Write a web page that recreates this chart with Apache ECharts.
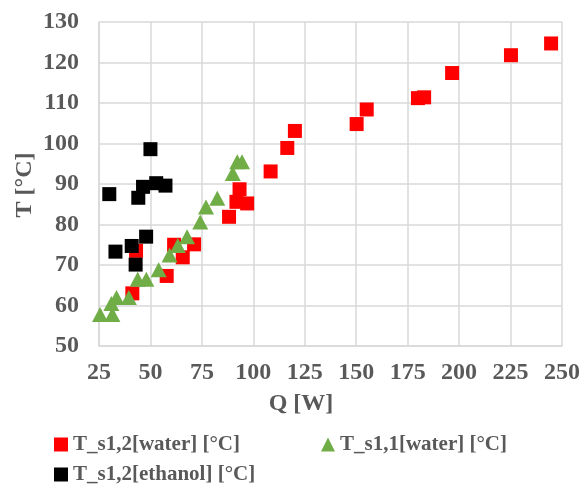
<!DOCTYPE html>
<html>
<head>
<meta charset="utf-8">
<script src="https://cdn.jsdelivr.net/npm/echarts@6/dist/echarts.min.js"></script>
<style>
  html, body { margin: 0; padding: 0; background: #fff; }
  #main { width: 583px; height: 488px; }
</style>
</head>
<body>
<div id="main"></div>
<script>
// series names
var names = ['T_s1,2[water] [°C]', 'T_s1,1[water] [°C]', 'T_s1,2[ethanol] [°C]'];

// Q [W], T [°C] pairs
var waterS12 = [
  [41.2, 63.0], [43.0, 73.5], [57.9, 67.3], [61.5, 75.0], [65.7, 71.9], [71.2, 75.1],
  [88.2, 81.9], [91.8, 85.6], [93.3, 88.7], [97.0, 85.2], [108.4, 93.1], [116.5, 98.9],
  [120.2, 103.1], [150.2, 104.8], [155.1, 108.4], [180.0, 111.2], [183.0, 111.4],
  [196.6, 117.4], [225.2, 121.8], [244.7, 124.7]
];
var waterS11 = [
  [25.5, 57.8], [31.5, 57.8], [31.0, 60.5], [33.5, 62.0], [39.5, 62.0], [43.8, 66.5],
  [48.0, 66.5], [54.0, 68.8], [59.3, 72.5], [63.3, 74.8], [67.8, 77.0], [74.2, 80.6],
  [77.0, 84.3], [82.5, 86.5], [90.0, 92.6], [92.2, 95.5], [94.5, 95.5]
];
var ethanolS12 = [
  [30.0, 87.5], [33.0, 73.3], [40.9, 74.7], [42.8, 70.1], [44.1, 86.6],
  [46.4, 89.3], [47.9, 77.0], [50.0, 98.6], [52.8, 90.2], [57.3, 89.6]
];

var xTicks = [25, 250, 25];   // min, max, step
var yTicks = [50, 130, 10];

var serif = "'Times New Roman', 'Liberation Serif', serif";
var grey = '#595959';

var chart = echarts.init(document.getElementById('main'));

var option = {
  animation: false,
  grid: { left: 99, right: 12, top: 22, bottom: 142 },
  xAxis: {
    type: 'value',
    min: xTicks[0], max: xTicks[1], interval: xTicks[2],
    axisLine: { show: true, lineStyle: { color: '#d9d9d9', width: 1.5 } },
    axisTick: { show: false },
    splitLine: { lineStyle: { color: '#d9d9d9', width: 1.5 } },
    axisLabel: { color: grey, fontFamily: serif, fontWeight: 'bold', fontSize: 24, margin: 15 }
  },
  yAxis: {
    type: 'value',
    min: yTicks[0], max: yTicks[1], interval: yTicks[2],
    axisLine: { show: true, lineStyle: { color: '#d9d9d9', width: 1.5 } },
    axisTick: { show: false },
    splitLine: { lineStyle: { color: '#d9d9d9', width: 1.5 } },
    axisLabel: { color: grey, fontFamily: serif, fontWeight: 'bold', fontSize: 24, margin: 20 }
  },
  legend: [{
    left: 49, top: 429,
    itemWidth: 14, itemHeight: 14, itemGap: 81,
    textStyle: { color: grey, fontFamily: serif, fontWeight: 'bold', fontSize: 21 },
    data: [{ name: names[0], icon: 'rect' }, { name: names[1], icon: 'triangle' }]
  }, {
    left: 49, top: 459,
    itemWidth: 14, itemHeight: 14,
    textStyle: { color: grey, fontFamily: serif, fontWeight: 'bold', fontSize: 21 },
    data: [{ name: names[2], icon: 'rect' }]
  }],
  graphic: [{
    type: 'text', x: 301, y: 404,
    style: { text: 'Q [W]', fill: grey, font: 'bold 24px ' + serif, textAlign: 'center', textVerticalAlign: 'middle' }
  }, {
    type: 'text', x: 25, y: 185, rotation: Math.PI / 2,
    style: { text: 'T [°C]', fill: grey, font: 'bold 24px ' + serif, textAlign: 'center', textVerticalAlign: 'middle' }
  }],
  series: [{
    name: names[0], type: 'scatter', symbol: 'rect', symbolSize: 14,
    itemStyle: { color: '#ff0000', opacity: 1 }, data: waterS12
  }, {
    name: names[1], type: 'scatter', symbol: 'triangle', symbolSize: [16, 15],
    itemStyle: { color: '#70ad47', opacity: 1 }, data: waterS11
  }, {
    name: names[2], type: 'scatter', symbol: 'rect', symbolSize: 14,
    itemStyle: { color: '#000000', opacity: 1 }, data: ethanolS12
  }]
};

chart.setOption(option);
</script>
</body>
</html>
